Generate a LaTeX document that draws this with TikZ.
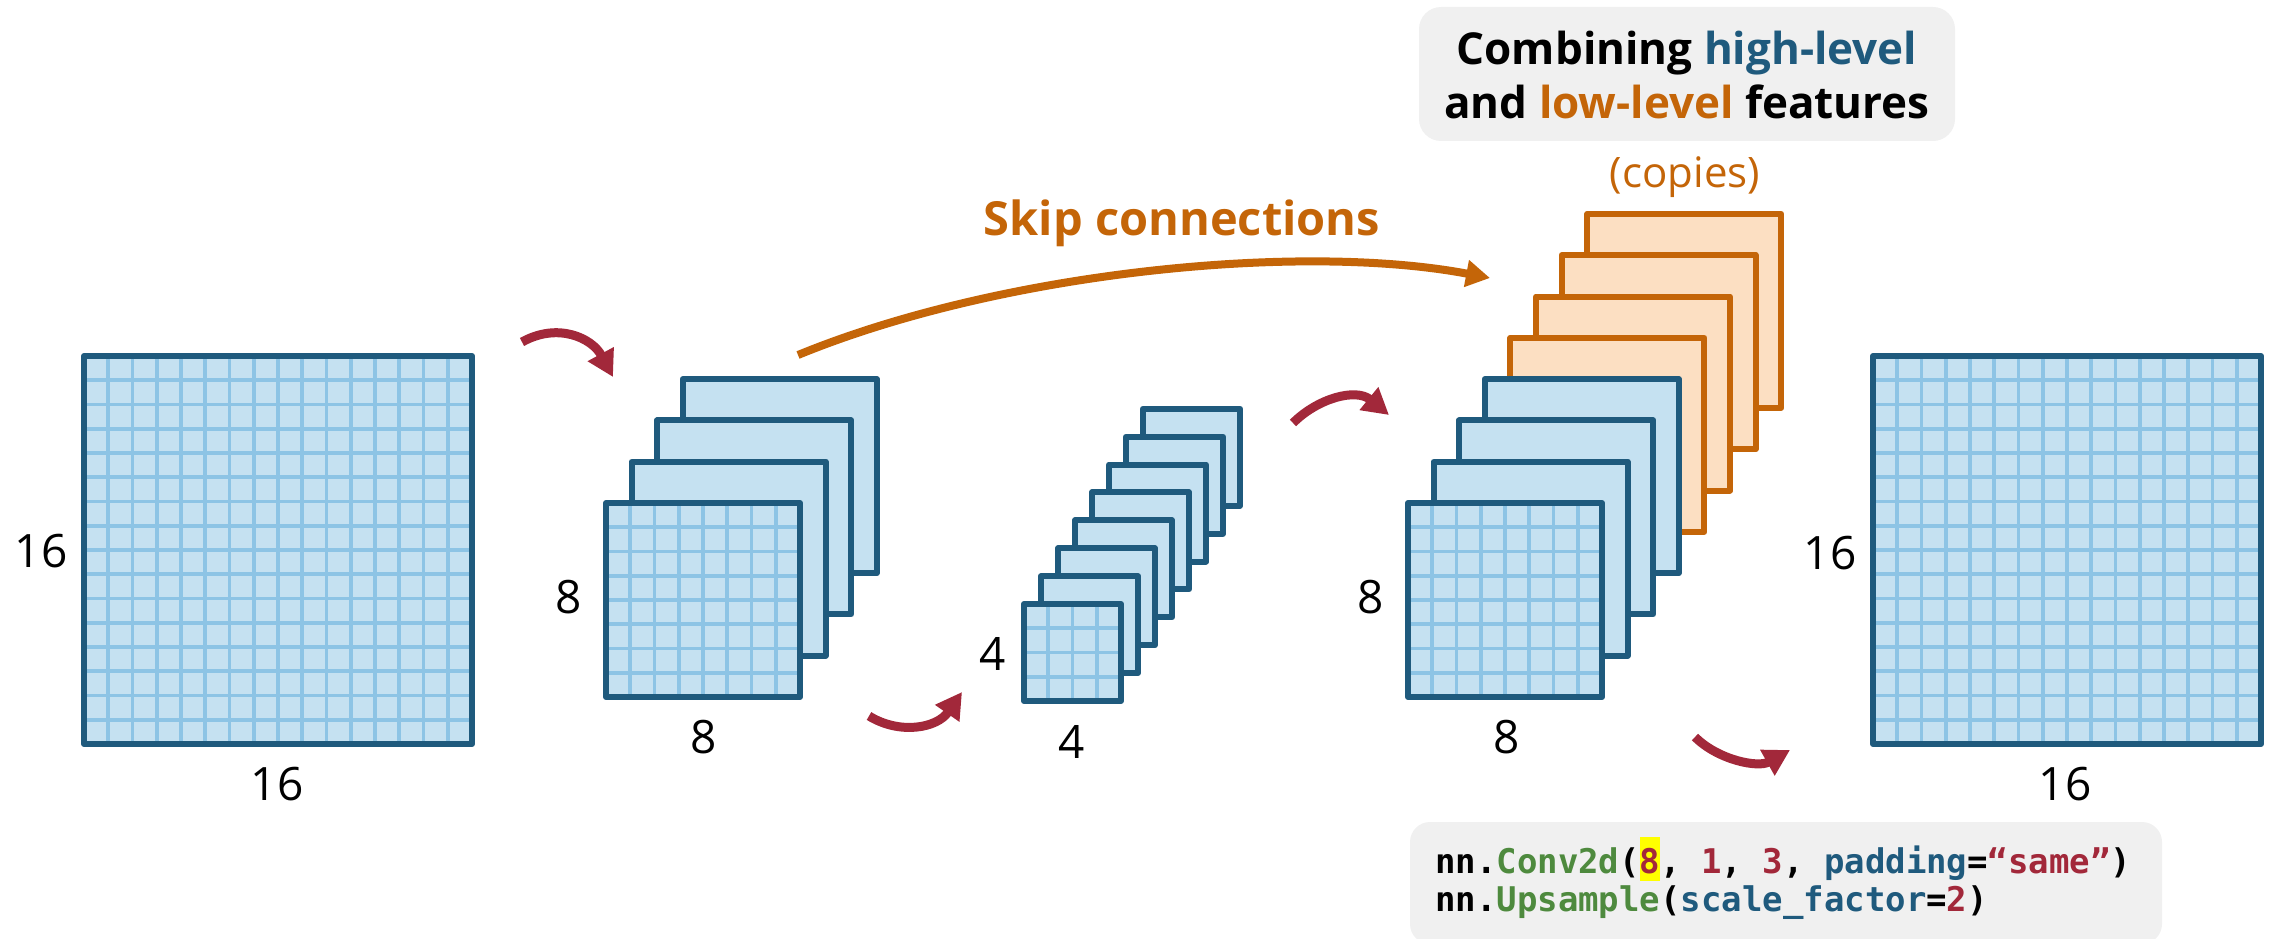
\documentclass[tikz,border=0pt]{standalone}
\usepackage{fontspec}
\setmainfont{Open Sans}
\newfontfamily\codefont{DejaVu Sans Mono}
\usetikzlibrary{arrows.meta}

\definecolor{mapblue}{HTML}{1F5A7D}
\definecolor{mapfill}{HTML}{C5E1F1}
\definecolor{gridline}{HTML}{8DC4E5}
\definecolor{skiporange}{HTML}{C46508}
\definecolor{copyfill}{HTML}{FCDFC2}
\definecolor{flowred}{HTML}{A2283A}
\definecolor{panelgray}{HTML}{F0F0F0}
\definecolor{codegreen}{HTML}{4E8A3E}
\definecolor{codeblue}{HTML}{1F5A7D}
\definecolor{codered}{HTML}{A2283A}
\definecolor{marker}{HTML}{FFFF00}

\tikzset{
  sheetbox/.style={draw=mapblue, fill=mapfill, line width=6pt, line join=round},
  copybox/.style={draw=skiporange, fill=copyfill, line width=6pt, line join=round},
  gridln/.style={draw=gridline, line width=3.8pt},
  dimlabel/.style={font=\fontsize{46}{50}\selectfont, text=black, inner sep=0pt},
  titletext/.style={font=\fontsize{44}{54}\selectfont\bfseries, inner sep=0pt, anchor=base},
  flowarrow/.style={draw=flowred, line width=9pt, -{Triangle[length=26pt,width=28pt]}},
  skiparrow/.style={draw=skiporange, line width=8pt, -{Triangle[length=24pt,width=26pt]}},
  codetext/.style={font=\codefont\bfseries\fontsize{34}{38}\selectfont, inner sep=0pt, anchor=base west},
}

% one plain feature map: top-left x, top-left y, side, style
\newcommand\plainsheet[4]{\draw[#4] (#1,#2) rectangle ++(#3,#3);}
% one feature map with its pixel grid: top-left x, top-left y, side, cells
\newcommand\gridsheet[4]{%
  \fill[mapfill] (#1,#2) rectangle ++(#3,#3);
  \pgfmathtruncatemacro\gsn{#4-1}%
  \foreach \k in {1,...,\gsn}{%
    \draw[gridln] ({#1+\k*#3/#4},#2) -- ++(0,#3);
    \draw[gridln] (#1,{#2+\k*#3/#4}) -- ++(#3,0);
  }%
  \draw[sheetbox,fill=none] (#1,#2) rectangle ++(#3,#3);}

\begin{document}
\begin{tikzpicture}[x=1pt,y=-1pt]
\useasboundingbox (0,0) rectangle (2272,939);

% input map 16x16
\gridsheet{84}{356}{388}{16}
\node[dimlabel] (inH) at (41,551) {16};
\node[dimlabel] (inW) at (277,784) {16};

% encoder: 8x8, 4 channels
\foreach \i in {3,2,1}{\plainsheet{606+25.6*\i}{503-41.3*\i}{194}{sheetbox}}
\gridsheet{606}{503}{194}{8}
\node[dimlabel] (encH) at (569,597) {8};
\node[dimlabel] (encW) at (704,737) {8};

% bottleneck: 4x4, 8 channels
\foreach \i in {7,6,5,4,3,2,1}{\plainsheet{1024+17*\i}{604-27.9*\i}{97}{sheetbox}}
\gridsheet{1024}{604}{97}{4}
\node[dimlabel] (botH) at (993,654) {4};
\node[dimlabel] (botW) at (1072,742) {4};

% decoder: upsampled maps plus skipped copies
\foreach \i in {7,6,5,4}{\plainsheet{1408+25.6*\i}{503-41.3*\i}{194}{copybox}}
\foreach \i in {3,2,1}{\plainsheet{1408+25.6*\i}{503-41.3*\i}{194}{sheetbox}}
\gridsheet{1408}{503}{194}{8}
\node[dimlabel] (decH) at (1371,597) {8};
\node[dimlabel] (decW) at (1507,737) {8};
\node[dimlabel, text=skiporange, font=\fontsize{42}{48}\selectfont] (copies) at (1685,177) {(copies)};

% output map 16x16
\gridsheet{1873}{356}{388}{16}
\node[dimlabel] (outH) at (1830,553) {16};
\node[dimlabel] (outW) at (2065,784) {16};

% panel with the caption
\node[fill=panelgray, rounded corners=22pt, minimum width=536pt, minimum height=134pt,
      inner sep=0pt] (panel) at (1687,74) {};
\node[titletext] (title1) at (1687,65) {Combining \textcolor{mapblue}{high-level}};
\node[titletext] (title2) at (1687,119) {and \textcolor{skiporange}{low-level} features};

% skip connection
\node[font=\fontsize{47}{50}\selectfont\bfseries, text=skiporange, inner sep=0pt, anchor=base]
  (skiplbl) at (1182,235) {Skip connections};
\coordinate (skipS) at (798,355);
\coordinate (skipE) at (1490,278);
\draw[skiparrow] (skipS) .. controls (1000,272) and (1300,242) .. (skipE);

% flow arrows between stages
\coordinate (f1s) at (522,342);  \coordinate (f1e) at (613,377);
\coordinate (f2s) at (869,716);  \coordinate (f2e) at (962,692);
\coordinate (f3s) at (1293,423); \coordinate (f3e) at (1389,415);
\coordinate (f4s) at (1695,737); \coordinate (f4e) at (1790,750);
\draw[flowarrow] (f1s) .. controls (558,322) and (592,338) .. (f1e);
\draw[flowarrow] (f2s) .. controls (900,735) and (937,728) .. (f2e);
\draw[flowarrow] (f3s) .. controls (1318,398) and (1356,388) .. (f3e);
\draw[flowarrow] (f4s) .. controls (1718,760) and (1758,768) .. (f4e);

% code snippet
\node[fill=panelgray, rounded corners=20pt, minimum width=752pt, minimum height=122pt,
      inner sep=0pt] (codebox) at (1786,883) {};
\setlength{\fboxsep}{0pt}
\node[codetext] (code1) at (1435,873) {nn.\textcolor{codegreen}{Conv2d}(\colorbox{marker}{\rule[-8pt]{0pt}{44pt}\textcolor{codered}{8}}, \textcolor{codered}{1}, \textcolor{codered}{3}, \textcolor{codeblue}{padding}=\textcolor{codered}{“same”})};
\node[codetext] (code2) at (1435,911) {nn.\textcolor{codegreen}{Upsample}(\textcolor{codeblue}{scale\_factor}=\textcolor{codered}{2})};
\end{tikzpicture}
\end{document}
